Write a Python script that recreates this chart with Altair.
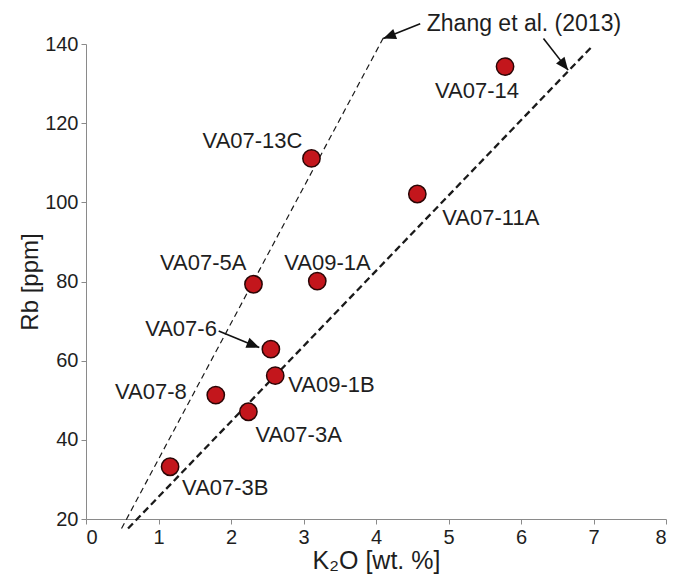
import altair as alt
import pandas as pd

# ---- data ----
samples = ["VA07-14", "VA07-13C", "VA07-11A", "VA07-5A", "VA09-1A",
           "VA07-6", "VA09-1B", "VA07-8", "VA07-3A", "VA07-3B"]
k2o = [5.78, 3.11, 4.57, 2.31, 3.19, 2.55, 2.61, 1.79, 2.24, 1.16]
rb = [134.3, 111.1, 102.1, 79.3, 80.1, 62.9, 56.2, 51.3, 47.1, 33.2]

# Zhang et al. (2013) reference lines (end points)
line_id = ["steep", "steep", "shallow", "shallow"]
line_x = [0.49, 4.10, 0.58, 6.97]
line_y = [17.6, 141.5, 17.6, 139.2]

# annotation arrows: start -> tip
arrow_name = ["zhang1", "zhang2", "va076"]
arrow_x0 = [4.61, 6.31, 1.83]
arrow_y0 = [145.1, 141.4, 67.5]
arrow_x1 = [4.10, 6.65, 2.39]
arrow_y1 = [141.4, 133.4, 63.3]

ref_text = ["Zhang et al. (2013)"]
ref_x = [4.70]
ref_y = [145.1]

FONT = "Liberation Sans"
TXT = "#1e1e1e"

pts = pd.DataFrame({"sample": samples, "k2o": k2o, "rb": rb})
lines = pd.DataFrame({"id": line_id, "x": line_x, "y": line_y})
arrows = pd.DataFrame({"name": arrow_name, "x0": arrow_x0, "y0": arrow_y0,
                       "x1": arrow_x1, "y1": arrow_y1})
reftxt = pd.DataFrame({"t": ref_text, "x": ref_x, "y": ref_y})

xscale = alt.Scale(domain=[0, 8], nice=False, zero=False)
yscale = alt.Scale(domain=[20, 140], nice=False, zero=False)

xaxis = alt.Axis(values=list(range(0, 9)), format="d", grid=False, tickSize=5,
                 tickColor="#8a8a8a", domainColor="#8a8a8a",
                 labelFont=FONT, labelFontSize=20, labelColor=TXT,
                 labelPadding=3, title="K₂O [wt. %]", titleFont=FONT,
                 titleFontSize=25, titleFontWeight="normal", titleColor=TXT,
                 titlePadding=1)
yaxis = alt.Axis(values=list(range(20, 141, 20)), format="d", grid=False, tickSize=5,
                 tickColor="#8a8a8a", domainColor="#8a8a8a",
                 labelFont=FONT, labelFontSize=20, labelColor=TXT,
                 labelPadding=3, title="Rb [ppm]", titleFont=FONT,
                 titleFontSize=24, titleFontWeight="normal", titleColor=TXT,
                 titlePadding=2)

base_lines = alt.Chart(lines)
steep = base_lines.transform_filter(alt.datum.id == "steep").mark_line(
    color="#1a1a1a", strokeWidth=1.2, strokeDash=[6, 4]
).encode(x=alt.X("x:Q", scale=xscale, axis=xaxis),
         y=alt.Y("y:Q", scale=yscale, axis=yaxis))
shallow = base_lines.transform_filter(alt.datum.id == "shallow").mark_line(
    color="#1a1a1a", strokeWidth=2.3, strokeDash=[7, 4]
).encode(x=alt.X("x:Q", scale=xscale), y=alt.Y("y:Q", scale=yscale))

points = alt.Chart(pts).mark_circle(
    size=300, color="#c3161c", stroke="#2a0505", strokeWidth=1.5, opacity=1
).encode(x=alt.X("k2o:Q", scale=xscale), y=alt.Y("rb:Q", scale=yscale))

# label placement (pixel offsets / alignment) — style only
label_style = {
    "VA07-14": ("left", -70, 24),
    "VA07-13C": ("right", -9, -17),
    "VA07-11A": ("left", 25, 24),
    "VA07-5A": ("right", -7, -21),
    "VA09-1A": ("left", -33, -18),
    "VA07-6": ("right", -54, -20),
    "VA09-1B": ("left", 13, 9),
    "VA07-8": ("right", -29, -3),
    "VA07-3A": ("left", 7, 23),
    "VA07-3B": ("left", 12, 21),
}
label_layers = []
for s in samples:
    al, dx, dy = label_style[s]
    label_layers.append(
        alt.Chart(pts).transform_filter(alt.datum.sample == s).mark_text(
            align=al, baseline="middle", dx=dx, dy=dy, font=FONT,
            fontSize=22, color=TXT
        ).encode(x=alt.X("k2o:Q", scale=xscale), y=alt.Y("rb:Q", scale=yscale),
                 text="sample:N")
    )

arrow_lines = alt.Chart(arrows).mark_rule(color="#111111", strokeWidth=1.6).encode(
    x=alt.X("x0:Q", scale=xscale), y=alt.Y("y0:Q", scale=yscale),
    x2="x1:Q", y2="y1:Q")

head_angle = {"zhang1": 249, "zhang2": 142, "va076": 112}
heads = []
for n in arrow_name:
    heads.append(
        alt.Chart(arrows).transform_filter(alt.datum.name == n).mark_point(
            shape="M0,0L-0.42,1L0.42,1Z", size=650, filled=True, color="#111111",
            opacity=1, angle=head_angle[n]
        ).encode(x=alt.X("x1:Q", scale=xscale), y=alt.Y("y1:Q", scale=yscale))
    )

ref_label = alt.Chart(reftxt).mark_text(
    align="left", baseline="middle", font=FONT, fontSize=23, color=TXT
).encode(x=alt.X("x:Q", scale=xscale), y=alt.Y("y:Q", scale=yscale), text="t:N")

chart = alt.layer(steep, shallow, arrow_lines, *heads, points, *label_layers,
                  ref_label).properties(
    width=580, height=475,
    autosize=alt.AutoSizeParams(type="none"),
    padding={"left": 78, "top": 36, "right": 9, "bottom": 56},
    background="white",
).configure_view(stroke=None)

chart.save("out.html", embed_options={"renderer": "svg", "actions": False})
